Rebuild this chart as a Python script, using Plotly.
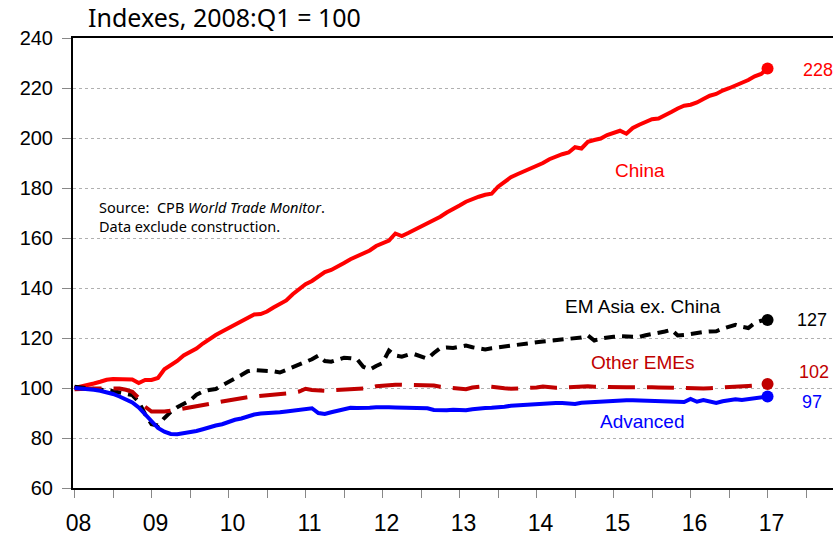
import plotly.graph_objects as go

# monthly, Jan 2008 .. Jan 2017, index 2008:Q1 = 100
months = [2008 + m / 12 for m in range(109)]

china = [100.0, 100.5, 101.2, 101.8, 102.5, 103.3, 103.6, 103.6, 103.8, 103.4,
         102.0, 103.2, 103.2, 104.0, 107.5, 109.0, 110.8, 113.0, 114.5, 115.8,
         117.8, 119.7, 121.2, 122.6, 124.0, 125.4, 126.8, 128.2, 129.4, 129.6,
         130.6, 132.2, 133.6, 135.0, 137.5, 139.3, 141.5, 142.8, 144.8, 146.4,
         147.2, 148.8, 150.0, 151.5, 152.8, 154.0, 155.0, 156.8, 158.0, 159.0,
         161.8, 160.8, 162.0, 163.3, 164.2, 165.5, 167.0, 168.5, 170.2, 171.8,
         173.0, 174.5, 175.6, 176.5, 177.3, 177.7, 180.5, 182.5, 184.3, 185.5,
         186.6, 187.8, 189.0, 190.0, 191.5, 192.6, 193.5, 194.2, 196.3, 195.8,
         198.5, 199.2, 199.8, 201.2, 202.0, 202.9, 201.7, 204.0, 205.3, 206.6,
         207.5, 207.8, 209.3, 210.4, 211.8, 212.9, 213.3, 214.2, 215.6, 216.9,
         217.6, 219.0, 219.9, 221.0, 222.0, 223.2, 224.7, 225.6, 227.8]

em_asia = [100.5, 100.3, 100.1, 99.8, 99.4, 99.1, 98.7, 98.3, 97.9, 97.2,
           94.5, 89.5, 85.5, 85.0, 88.0, 90.5, 92.3, 93.5, 95.0, 97.3,
           98.6, 99.2, 99.6, 101.0, 102.3, 103.8, 105.2, 106.7, 107.2, 107.0,
           106.9, 106.7, 106.2, 107.3, 108.2, 109.1, 110.5, 111.5, 113.0, 110.8,
           110.5, 111.5, 112.1, 111.9, 111.6, 108.5, 107.4, 108.8, 110.0, 115.0,
           113.0, 112.5, 113.3, 113.5, 112.7, 111.7, 114.0, 116.0, 116.2, 116.0,
           116.5, 117.0, 116.3, 115.9, 115.4, 115.9, 116.3, 116.6, 117.0, 117.5,
           117.8, 118.0, 118.3, 118.6, 118.8, 119.3, 119.6, 119.8, 120.0, 120.2,
           121.0, 119.0, 119.8, 120.3, 120.5, 120.7, 120.6, 120.4, 120.4, 121.1,
           121.5, 122.0, 122.6, 123.3, 121.0, 121.2, 121.7, 122.0, 122.4, 122.6,
           122.7, 123.7, 124.5, 125.3, 124.5, 124.0, 126.0, 126.9, 127.2]

other_emes = [99.5, 99.7, 99.8, 99.8, 99.8, 99.9, 100.0, 99.8, 99.3, 98.5,
              96.0, 92.5, 90.6, 90.5, 90.6, 90.9, 91.3, 91.7, 92.1, 92.5,
              93.0, 93.5, 94.1, 94.6, 95.1, 95.6, 96.0, 96.3, 96.6, 96.8,
              97.0, 97.2, 97.5, 97.8, 98.1, 98.6, 99.7, 99.2, 98.9, 98.9,
              99.1, 99.3, 99.6, 99.7, 99.7, 99.8, 100.0, 100.7, 101.0, 101.3,
              101.3, 101.3, 101.3, 101.3, 101.3, 101.2, 101.0, 100.5, 100.3, 100.3,
              100.1, 99.5, 100.2, 100.6, 100.8, 100.5, 100.0, 99.9, 99.7, 99.8,
              99.9, 99.8, 100.2, 100.6, 100.3, 100.1, 100.2, 100.4, 100.6, 100.8,
              100.7, 100.5, 100.4, 100.3, 100.3, 100.3, 100.3, 100.3, 100.4, 100.3,
              100.3, 100.2, 100.1, 100.0, 100.0, 99.9, 99.8, 99.7, 99.8, 99.9,
              100.0, 100.0, 100.1, 100.3, 100.6, 100.8, 101.0, 101.3, 101.6]

advanced = [100.0, 99.9, 99.7, 99.3, 98.9, 98.3, 97.6, 96.6, 95.4, 94.2,
            92.2, 89.5, 86.5, 84.0, 82.5, 81.6, 81.5, 81.8, 82.2, 82.8,
            83.5, 84.4, 85.0, 85.5, 86.5, 87.3, 87.8, 88.7, 89.4, 89.8,
            89.9, 89.9, 90.3, 90.6, 90.9, 91.5, 91.9, 91.9, 90.0, 89.6,
            90.3, 91.0, 91.5, 92.1, 92.0, 91.9, 92.1, 92.3, 92.5, 92.3,
            92.2, 92.2, 92.3, 92.2, 92.0, 91.9, 91.2, 91.0, 91.1, 91.3,
            91.2, 91.1, 91.5, 91.9, 92.0, 92.1, 92.2, 92.5, 92.9, 93.1,
            93.4, 93.5, 93.8, 93.9, 94.0, 94.0, 94.0, 93.8, 93.6, 94.1,
            94.3, 94.5, 94.7, 94.9, 95.0, 95.1, 95.1, 95.1, 95.0, 94.8,
            94.7, 94.7, 94.7, 94.7, 94.6, 94.4, 95.6, 94.5, 95.2, 94.8,
            94.0, 94.7, 95.1, 95.5, 95.2, 95.6, 95.9, 96.4, 96.6]

year_ticks = list(range(2008, 2018))
year_labels = ["08", "09", "10", "11", "12", "13", "14", "15", "16", "17"]

series = [
	("China", china, "#ff0000", "solid", "228"),
	("EM Asia ex. China", em_asia, "#000000", "11px,7px", "127"),
	("Other EMEs", other_emes, "#c00000", "27px,12px", "102"),
	("Advanced", advanced, "#0000ff", "solid", "97"),
]

ARIAL = "Liberation Sans, Arial"

fig = go.Figure()
for name, vals, col, dash, last in series:
	fig.add_trace(go.Scatter(x=months, y=vals, mode="lines", name=name,
							 line=dict(color=col, width=4, dash=dash)))
	fig.add_trace(go.Scatter(x=[months[-1]], y=[vals[-1]], mode="markers",
							 marker=dict(color=col, size=12), showlegend=False))

# series names inside the plot
names = [("China", 2015.34, 187.2, "#ff0000"),
		 ("EM Asia ex. China", 2015.38, 132.8, "#000000"),
		 ("Other EMEs", 2015.38, 110.4, "#c00000"),
		 ("Advanced", 2015.38, 86.8, "#0000ff")]
for txt, xx, yy, col in names:
	fig.add_annotation(x=xx, y=yy, text=txt, showarrow=False,
					   font=dict(family=ARIAL, size=19, color=col))

# end values
ends = [("228", 2017.66, 227.2, "#ff0000"), ("127", 2017.58, 127.2, "#000000"),
		("102", 2017.6, 106.4, "#c00000"), ("97", 2017.58, 94.4, "#0000ff")]
for txt, xx, yy, col in ends:
	fig.add_annotation(x=xx, y=yy, text=txt, showarrow=False,
					   font=dict(family=ARIAL, size=18, color=col))

fig.add_annotation(x=0.0316, y=0.604, xref="paper", yref="paper", xanchor="left",
				   yanchor="middle", align="left", showarrow=False,
				   text="Source:  CPB <i>World Trade Monitor</i>.<br>Data exclude construction.",
				   font=dict(family="Noto Sans", size=14.5, color="#000000"))

fig.add_annotation(x=0.017, y=1.047, xref="paper", yref="paper", xanchor="left",
				   yanchor="middle", showarrow=False, text="Indexes, 2008:Q1 = 100",
				   font=dict(family="Noto Sans", size=25, color="#000000"))

fig.update_layout(
	width=835, height=538,
	margin=dict(l=73, r=2, t=38, b=50),
	plot_bgcolor="white", paper_bgcolor="white",
	showlegend=False,
	xaxis=dict(range=[2007.98, 2017.85], tickvals=[y + h for y in year_ticks for h in (0, 0.5)],
			   ticktext=[l for l in year_labels for l in (l, "")],
			   ticks="outside", ticklen=8, tickcolor="#888888", tickwidth=1,
			   ticklabelstandoff=5, ticklabelshift=4,
			   showgrid=False, zeroline=False, showline=True, linecolor="black",
			   linewidth=2, mirror=True,
			   tickfont=dict(family=ARIAL, size=23, color="black")),
	yaxis=dict(range=[60, 240], dtick=20, ticks="outside", ticklen=9,
			   tickcolor="#888888", showgrid=True, gridcolor="#b0b0b0",
			   griddash="dot", gridwidth=1, zeroline=False, showline=True,
			   linecolor="black", linewidth=2, ticklabelstandoff=5,
			   tickfont=dict(family=ARIAL, size=20, color="black")),
)

# drop the default body margin so the 835x538 figure fills the window exactly
fig.write_html("out.html", config={"displayModeBar": False},
			   post_script="document.body.style.margin='0px';document.body.style.overflow='hidden';")
